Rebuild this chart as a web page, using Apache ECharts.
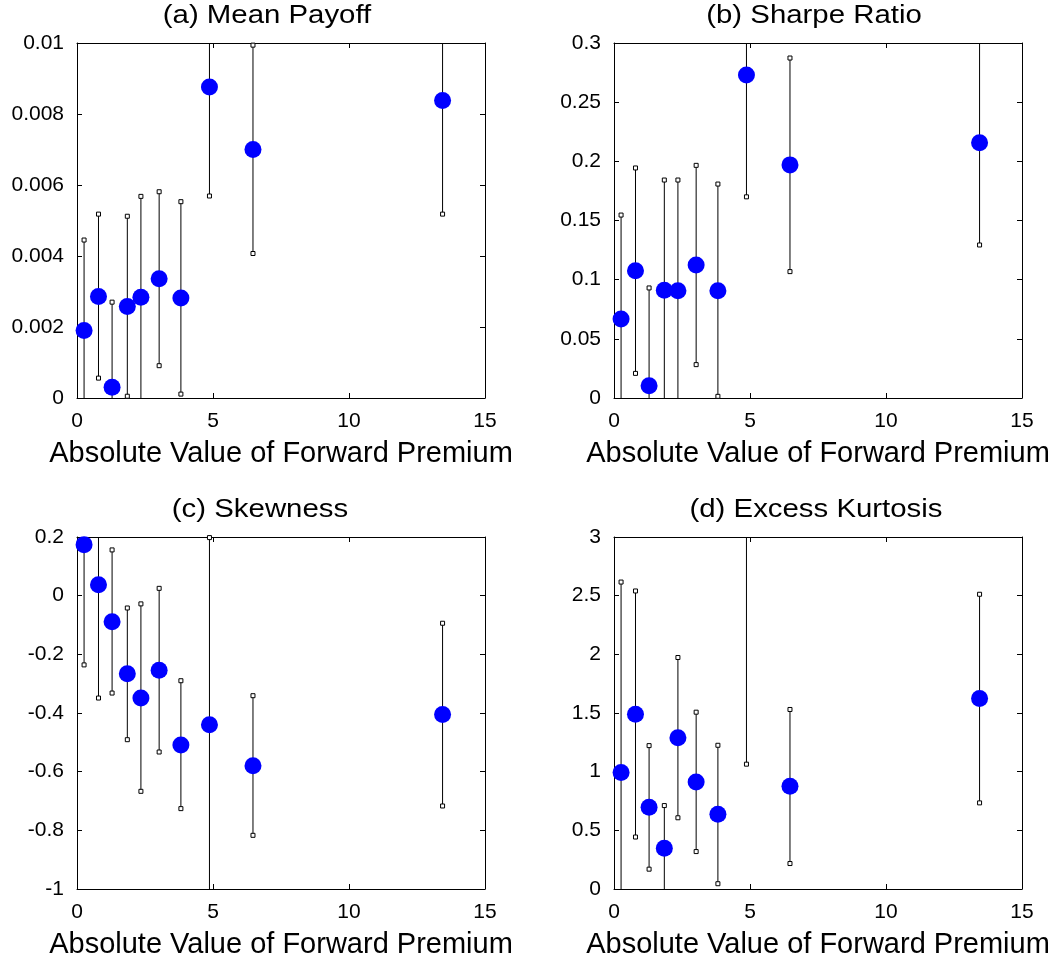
<!DOCTYPE html>
<html><head><meta charset="utf-8">
<script src="https://cdn.jsdelivr.net/npm/echarts@6/dist/echarts.min.js"></script>
<style>html,body{margin:0;padding:0;background:#fff}#c{width:1055px;height:960px}</style>
</head><body><div id="c"></div>
<script>
// ---- data ----
const xPremium = [0.26, 0.79, 1.29, 1.85, 2.35, 3.02, 3.82, 4.87, 6.47, 13.44];

const payoffMean = [0.0019, 0.00286, 0.0003, 0.00258, 0.00284, 0.00336, 0.00282, 0.00876, 0.0070, 0.00838];
const payoffLo   = [-0.00065, 0.00056, -0.0021, 0.00005, -0.00002, 0.00091, 0.00011, 0.00569, 0.00407, 0.00518];
const payoffHi   = [0.00445, 0.00518, 0.0027, 0.00512, 0.00568, 0.00581, 0.00553, 0.01183, 0.00994, 0.01158];

const sharpeMean = [0.0668, 0.1076, 0.0104, 0.091, 0.0907, 0.1124, 0.0907, 0.273, 0.197, 0.2158];
const sharpeLo   = [-0.021, 0.0208, -0.072, -0.002, -0.003, 0.0282, 0.0014, 0.170, 0.1068, 0.1293];
const sharpeHi   = [0.1546, 0.1944, 0.093, 0.1842, 0.1842, 0.1966, 0.1808, 0.376, 0.2873, 0.302];

const skewMean = [0.174, 0.037, -0.089, -0.266, -0.349, -0.254, -0.509, -0.440, -0.580, -0.405];
const skewLo   = [-0.236, -0.349, -0.332, -0.491, -0.667, -0.533, -0.726, -1.078, -0.817, -0.717];
const skewHi   = [0.584, 0.424, 0.156, -0.042, -0.028, 0.025, -0.290, 0.198, -0.341, -0.094];

const kurtMean = [0.9935, 1.49, 0.697, 0.347, 1.29, 0.912, 0.638, 4.6, 0.875, 1.623];
const kurtLo   = [-0.63, 0.443, 0.169, -0.017, 0.607, 0.319, 0.045, 1.064, 0.217, 0.734];
const kurtHi   = [2.616, 2.540, 1.222, 0.711, 1.973, 1.507, 1.225, 8.1, 1.530, 2.512];

const panelTitles = ['(a) Mean Payoff', '(b) Sharpe Ratio', '(c) Skewness', '(d) Excess Kurtosis'];
const xAxisName = 'Absolute Value of Forward Premium';
const xTicks = {min: 0, max: 15, interval: 5};
const yTicks = [
  {min: 0, max: 0.01, interval: 0.002},
  {min: 0, max: 0.3, interval: 0.05},
  {min: -1, max: 0.2, interval: 0.2},
  {min: 0, max: 3, interval: 0.5}
];

// ---- layout ----
const FONT = 'Liberation Sans, Arial, Helvetica, sans-serif';
const grids = [
  {left: 77, top: 43, width: 408, height: 355},
  {left: 614, top: 43, width: 408, height: 355},
  {left: 77, top: 537, width: 408, height: 354},
  {left: 614, top: 537, width: 408, height: 354}
];
const titlePos = [[267, 3], [814, 3], [260, 497], [816, 497]];
const panels = [
  [payoffMean, payoffLo, payoffHi],
  [sharpeMean, sharpeLo, sharpeHi],
  [skewMean, skewLo, skewHi],
  [kurtMean, kurtLo, kurtHi]
];

function fmt(v) { return String(parseFloat(v.toFixed(6))); }

const xAxes = [], yAxes = [], series = [], graphics = [];
grids.forEach((g, i) => {
  const line = {show: true, onZero: false, lineStyle: {color: '#000', width: 1}};
  const tick = {show: true, inside: true, length: 5, lineStyle: {color: '#000', width: 1}};
  xAxes.push({gridIndex: i, type: 'value', position: 'bottom', min: xTicks.min, max: xTicks.max, interval: xTicks.interval,
    axisLine: line, axisTick: tick, splitLine: {show: false},
    axisLabel: {color: '#000', fontSize: 21, fontFamily: FONT, margin: 13},
    name: xAxisName, nameLocation: 'middle', nameGap: 41,
    nameTextStyle: {color: '#000', fontSize: 29, fontFamily: FONT}});
  xAxes.push({gridIndex: i, type: 'value', position: 'top', min: xTicks.min, max: xTicks.max, interval: xTicks.interval,
    axisLine: line, axisTick: tick, splitLine: {show: false}, axisLabel: {show: false}});
  const yt = yTicks[i];
  yAxes.push({gridIndex: i, type: 'value', position: 'left', min: yt.min, max: yt.max, interval: yt.interval,
    axisLine: line, axisTick: tick, splitLine: {show: false},
    axisLabel: {color: '#000', fontSize: 21, fontFamily: FONT, margin: 13, formatter: fmt}});
  yAxes.push({gridIndex: i, type: 'value', position: 'right', min: yt.min, max: yt.max, interval: yt.interval,
    axisLine: line, axisTick: tick, splitLine: {show: false}, axisLabel: {show: false}});

  const [mean, lo, hi] = panels[i];
  series.push({
    type: 'custom', xAxisIndex: 2 * i, yAxisIndex: 2 * i, z: 2,
    data: xPremium.map((x, k) => [x, lo[k], hi[k]]),
    encode: {x: 0, y: [1, 2]},
    renderItem: function (params, api) {
      const x = api.value(0), l = api.value(1), h = api.value(2);
      const cs = params.coordSys;
      const pL = api.coord([x, l]), pH = api.coord([x, h]);
      const top = cs.y, bottom = cs.y + cs.height;
      const y1 = Math.min(Math.max(pH[1], top), bottom);
      const y2 = Math.min(Math.max(pL[1], top), bottom);
      const children = [{type: 'line', shape: {x1: pL[0], y1: y1, x2: pL[0], y2: y2},
        style: {stroke: '#000', lineWidth: 1}}];
      [pL, pH].forEach(p => {
        if (p[1] >= top - 0.5 && p[1] <= bottom + 0.5) {
          children.push({type: 'rect', shape: {x: p[0] - 2, y: p[1] - 2, width: 4, height: 4},
            style: {stroke: '#000', fill: '#fff', lineWidth: 1}});
        }
      });
      return {type: 'group', children: children};
    }
  });
  series.push({
    type: 'scatter', xAxisIndex: 2 * i, yAxisIndex: 2 * i, z: 3, clip: true,
    symbol: 'circle', symbolSize: 17, itemStyle: {color: '#0000ff', opacity: 1},
    data: xPremium.map((x, k) => [x, mean[k]])
  });
  graphics.push({type: 'text', x: titlePos[i][0], y: titlePos[i][1], scaleX: 1.13, scaleY: 1,
    style: {text: panelTitles[i], font: '26px ' + FONT, fill: '#000',
      align: 'center', verticalAlign: 'top', textAlign: 'center', textVerticalAlign: 'top'}});
});

const chart = echarts.init(document.getElementById('c'), null, {renderer: 'canvas'});
chart.setOption({
  animation: false,
  backgroundColor: '#fff',
  grid: grids,
  xAxis: xAxes,
  yAxis: yAxes,
  series: series,
  graphic: graphics,
  tooltip: {show: false}
});
</script>
</body></html>
